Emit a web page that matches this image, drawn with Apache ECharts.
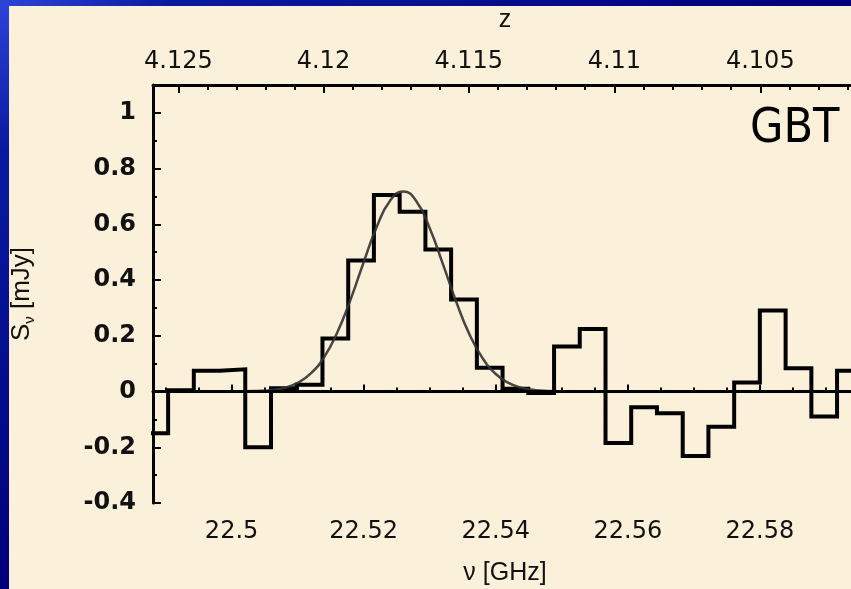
<!DOCTYPE html>
<html>
<head>
<meta charset="utf-8">
<script src="https://cdn.jsdelivr.net/npm/echarts@6/dist/echarts.min.js"></script>
<style>
  html, body { margin: 0; padding: 0; background: #fbf0d9; }
  #chart { width: 851px; height: 589px; }
</style>
</head>
<body>
<div id="chart"></div>
<script>
// CO(1-0) rest frequency in GHz, used to label the redshift axis
const REST_FREQ = 115.2712;

// Spectrometer channel edges (GHz); channel i spans edges[i]..edges[i+1]
const channelEdges = [
  22.48649, 22.49039, 22.49428, 22.49818, 22.50207, 22.50597, 22.50987,
  22.51376, 22.51766, 22.52155, 22.52545, 22.52935, 22.53324, 22.53714,
  22.54103, 22.54493, 22.54883, 22.55272, 22.55662, 22.56051, 22.56441,
  22.56831, 22.57220, 22.57610, 22.57999, 22.58389, 22.58779, 22.59168,
  22.59558
];
// Flux density per channel (mJy)
const channelFlux = [
  -0.15, 0.005, 0.075, 0.08, -0.20, 0.012, 0.024,
  0.19, 0.47, 0.705, 0.645, 0.51, 0.33, 0.085,
  0.01, -0.005, 0.162, 0.224, -0.185, -0.056, -0.078,
  -0.231, -0.126, 0.032, 0.291, 0.084, -0.09, 0.075
];

// Gaussian line fit, sampled (GHz / mJy)
const fitFreq = [
  22.4881, 22.500, 22.504, 22.506, 22.508, 22.510, 22.512, 22.514, 22.516,
  22.518, 22.520, 22.522, 22.524, 22.526, 22.528, 22.530, 22.532, 22.534,
  22.536, 22.538, 22.540, 22.542, 22.544, 22.546, 22.550, 22.5714
];
const fitFlux = [
  0, 0.0002, 0.002, 0.005, 0.013, 0.031, 0.065, 0.123, 0.212,
  0.329, 0.464, 0.592, 0.685, 0.718, 0.682, 0.586, 0.457, 0.323,
  0.206, 0.120, 0.063, 0.030, 0.013, 0.005, 0.001, 0
];

// Tick marks
const freqTicks = [22.5, 22.52, 22.54, 22.56, 22.58];
const freqMinorTicks = [22.49, 22.495, 22.505, 22.51, 22.515, 22.525, 22.53, 22.535,
  22.545, 22.55, 22.555, 22.565, 22.57, 22.575, 22.585, 22.59];
const zTicks = [4.125, 4.12, 4.115, 4.11, 4.105];
const zMinorTicks = [4.124, 4.123, 4.122, 4.121, 4.119, 4.118, 4.117, 4.116, 4.114,
  4.113, 4.112, 4.111, 4.109, 4.108, 4.107, 4.106, 4.104, 4.103, 4.102];
const fluxTicks = [-0.4, -0.2, 0, 0.2, 0.4, 0.6, 0.8, 1];
const fluxMinorTicks = [-0.3, -0.1, 0.1, 0.3, 0.5, 0.7, 0.9];

const FREQ_MIN = 22.4881, FREQ_MAX = 22.5947;
const zToFreq = z => REST_FREQ / (1 + z);
const freqToZ = f => REST_FREQ / f - 1;

// histogram outline: each channel drawn flat across its width
const histData = channelFlux.map((v, i) => [channelEdges[i], v]);
histData.push([channelEdges[channelEdges.length - 1], channelFlux[channelFlux.length - 1]]);
const fitData = fitFreq.map((f, i) => [f, fitFlux[i]]);

const ink = '#111';
const numFont = 'DejaVu Sans';

const chart = echarts.init(document.getElementById('chart'), null, { renderer: 'canvas' });

chart.setOption({
  backgroundColor: '#fbf0d9',
  animation: false,
  grid: { left: 153, top: 85, width: 704, height: 418, outerBoundsMode: 'none', containLabel: false },
  xAxis: [
    {
      type: 'value', position: 'bottom', min: FREQ_MIN, max: FREQ_MAX,
      axisLine: { lineStyle: { color: '#000', width: 3 } },
      axisTick: { inside: true, length: 7, lineStyle: { color: '#000', width: 2 }, customValues: freqTicks },
      axisLabel: {
        customValues: freqTicks, margin: 17, color: ink, fontFamily: numFont, fontSize: 24,
        formatter: v => String(+(+v).toFixed(3))
      },
      splitLine: { show: false },
      name: 'ν [GHz]', nameLocation: 'middle', nameGap: 58,
      nameTextStyle: { color: ink, fontFamily: 'Liberation Sans', fontSize: 25 }
    },
    {
      type: 'value', position: 'bottom', min: FREQ_MIN, max: FREQ_MAX,
      axisLine: { show: false },
      axisTick: { inside: true, length: 4, lineStyle: { color: '#000', width: 2 }, customValues: freqMinorTicks },
      axisLabel: { show: false }, splitLine: { show: false }
    },
    {
      type: 'value', position: 'top', min: FREQ_MIN, max: FREQ_MAX,
      axisLine: { lineStyle: { color: '#000', width: 3 } },
      axisTick: { inside: true, length: 8, lineStyle: { color: '#000', width: 2 }, customValues: zTicks.map(zToFreq) },
      axisLabel: {
        customValues: zTicks.map(zToFreq), margin: 11, color: ink, fontFamily: numFont, fontSize: 24,
        formatter: v => String(+freqToZ(+v).toFixed(3))
      },
      splitLine: { show: false },
      name: 'z', nameLocation: 'middle', nameGap: 52,
      nameTextStyle: { color: ink, fontFamily: 'Liberation Sans', fontSize: 25 }
    },
    {
      type: 'value', position: 'top', min: FREQ_MIN, max: FREQ_MAX,
      axisLine: { show: false },
      axisTick: { inside: true, length: 5, lineStyle: { color: '#000', width: 2 }, customValues: zMinorTicks.map(zToFreq) },
      axisLabel: { show: false }, splitLine: { show: false }
    }
  ],
  yAxis: [
    {
      type: 'value', position: 'left', min: -0.4, max: 1.1,
      axisLine: { lineStyle: { color: '#000', width: 3 } },
      axisTick: { inside: true, length: 8, lineStyle: { color: '#000', width: 2 }, customValues: fluxTicks },
      axisLabel: {
        customValues: fluxTicks, margin: 17, color: ink, fontFamily: numFont, fontWeight: 'bold', fontSize: 24,
        formatter: v => String(+(+v).toFixed(2))
      },
      splitLine: { show: false },
      name: '{s|S}{sub|ν}{s| [mJy]}', nameLocation: 'middle', nameGap: 116,
      nameTextStyle: {
        color: ink,
        rich: {
          s: { fontFamily: 'Liberation Sans', fontSize: 26, color: ink, lineHeight: 30, verticalAlign: 'middle' },
          sub: { fontFamily: 'Liberation Sans', fontSize: 15, color: ink, verticalAlign: 'bottom', lineHeight: 30 }
        }
      }
    },
    {
      type: 'value', position: 'left', min: -0.4, max: 1.1,
      axisLine: { show: false },
      axisTick: { inside: true, length: 4, lineStyle: { color: '#000', width: 2 }, customValues: fluxMinorTicks },
      axisLabel: { show: false }, splitLine: { show: false }
    }
  ],
  graphic: [
    {
      type: 'rect', left: 0, top: 0, z: 100,
      shape: { width: 9, height: 589 },
      style: { fill: new echarts.graphic.LinearGradient(0, 0, 0, 1, [
        { offset: 0, color: '#2d44d8' }, { offset: 0.25, color: '#0a1aa0' }, { offset: 1, color: '#00007a' }
      ]) }
    },
    {
      type: 'rect', left: 0, top: 0, z: 100,
      shape: { width: 851, height: 6 },
      style: { fill: new echarts.graphic.LinearGradient(0, 0, 1, 0, [
        { offset: 0, color: '#2d44d8' }, { offset: 0.2, color: '#0a1aa0' }, { offset: 1, color: '#00007a' }
      ]) }
    },
    {
      type: 'text', left: 750, top: 106, z: 100,
      style: { text: 'GBT', fill: '#000', font: '48px "Liberation Sans Narrow", "DejaVu Sans Condensed", sans-serif' }
    }
  ],
  series: [
    {
      type: 'line', name: 'spectrum', xAxisIndex: 0, yAxisIndex: 0,
      data: histData, step: 'end', symbol: 'none', clip: true,
      lineStyle: { color: '#000', width: 4, join: 'miter' },
      markLine: {
        silent: true, symbol: 'none', label: { show: false },
        lineStyle: { color: '#000', width: 3, type: 'solid' },
        data: [{ yAxis: 0 }]
      },
      z: 3
    },
    {
      type: 'line', name: 'fit', xAxisIndex: 0, yAxisIndex: 0,
      data: fitData, smooth: 0.5, symbol: 'none', clip: true,
      lineStyle: { color: '#333', width: 2.5, opacity: 0.9 },
      z: 4
    }
  ]
});
</script>
</body>
</html>
